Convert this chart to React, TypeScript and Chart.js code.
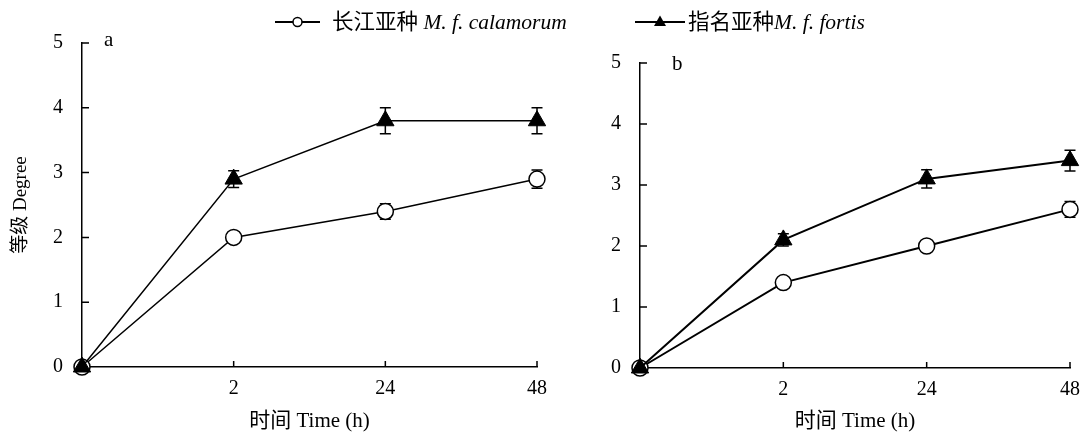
import React, { useEffect, useRef } from 'react';
import { Chart, registerables } from 'chart.js';

Chart.register(...registerables);

// ---------- data ----------
const timeLabels = ['0', '2', '24', '48'];

const aCalamorum = [0, 2.0, 2.4, 2.9];
const aCalamorumErr = [0, 0.05, 0.12, 0.14];
const aFortis = [0, 2.9, 3.8, 3.8];
const aFortisErr = [0, 0.13, 0.2, 0.2];

const bCalamorum = [0, 1.4, 2.0, 2.6];
const bCalamorumErr = [0, 0.05, 0.06, 0.13];
const bFortis = [0, 2.1, 3.1, 3.4];
const bFortisErr = [0, 0.1, 0.15, 0.17];

const seriesCn = ['长江亚种', '指名亚种'];
const seriesLatin = ['M. f. calamorum', 'M. f. fortis'];
const panelLetters = ['a', 'b'];
const xTitle = '时间 Time (h)';
const yTitle = '等级 Degree';

const FONT = '"Liberation Serif", "Times New Roman", "Noto Sans CJK SC", serif';

// ---------- plugins ----------
const errorBarPlugin = {
  id: 'errorBars',
  beforeDatasetsDraw(chart: any) {
    const ctx = chart.ctx;
    const yScale = chart.scales.y;
    chart.data.datasets.forEach((ds: any, di: number) => {
      const meta = chart.getDatasetMeta(di);
      if (!ds.errors) return;
      ctx.save();
      ctx.strokeStyle = '#000';
      ctx.lineWidth = 1.5;
      meta.data.forEach((pt: any, i: number) => {
        const v = ds.data[i];
        const e = ds.errors[i];
        if (!e) return;
        const x = pt.x;
        const yT = yScale.getPixelForValue(v + e);
        const yB = yScale.getPixelForValue(v - e);
        ctx.beginPath();
        ctx.moveTo(x, yT);
        ctx.lineTo(x, yB);
        ctx.moveTo(x - 5.5, yT);
        ctx.lineTo(x + 5.5, yT);
        ctx.moveTo(x - 5.5, yB);
        ctx.lineTo(x + 5.5, yB);
        ctx.stroke();
      });
      ctx.restore();
    });
  },
};

const inwardTicksPlugin = {
  id: 'inwardTicks',
  afterDraw(chart: any) {
    const ctx = chart.ctx;
    const { x, y } = chart.scales;
    const area = chart.chartArea;
    ctx.save();
    ctx.strokeStyle = '#000';
    ctx.lineWidth = 1.5;
    ctx.beginPath();
    x.ticks.forEach((_t: any, i: number) => {
      if (i === 0) return;
      const px = x.getPixelForTick(i);
      ctx.moveTo(px, area.bottom);
      ctx.lineTo(px, area.bottom - 6);
    });
    y.ticks.forEach((t: any) => {
      if (t.value === 0) return;
      const py = y.getPixelForValue(t.value);
      ctx.moveTo(area.left, py);
      ctx.lineTo(area.left + 7, py);
    });
    ctx.stroke();
    ctx.restore();
  },
};

const panelLabelPlugin = {
  id: 'panelLabel',
  afterDraw(chart: any, _args: any, opts: any) {
    if (!opts || !opts.text) return;
    const ctx = chart.ctx;
    const area = chart.chartArea;
    ctx.save();
    ctx.fillStyle = '#000';
    ctx.font = `21px ${FONT}`;
    ctx.textAlign = 'left';
    ctx.textBaseline = 'alphabetic';
    ctx.fillText(opts.text, area.left + opts.dx, area.top + opts.dy);
    ctx.restore();
  },
};

// ---------- panel ----------
type PanelProps = {
  cal: number[];
  calErr: number[];
  fort: number[];
  fortErr: number[];
  letter: string;
  width: number;
  padRight: number;
  padTop: number;
  yWidth: number;
  xHeight: number;
  showYTitle: boolean;
  lineWidth: number;
  labelDx: number;
  labelDy: number;
  left: number;
};

function Panel(p: PanelProps) {
  const ref = useRef<HTMLCanvasElement | null>(null);
  useEffect(() => {
    if (!ref.current) return;
    const chart = new Chart(ref.current, {
      type: 'line',
      data: {
        labels: timeLabels,
        datasets: [
          {
            label: seriesCn[1] + seriesLatin[1],
            data: p.fort,
            errors: p.fortErr,
            borderColor: '#000',
            borderWidth: p.lineWidth,
            pointStyle: 'triangle',
            pointRadius: 10,
            pointBackgroundColor: '#000',
            pointBorderColor: '#000',
            pointBorderWidth: 1,
            tension: 0,
            clip: false,
          } as any,
          {
            label: seriesCn[0] + ' ' + seriesLatin[0],
            data: p.cal,
            errors: p.calErr,
            borderColor: '#000',
            borderWidth: p.lineWidth,
            pointStyle: 'circle',
            pointRadius: 8,
            pointBackgroundColor: '#fff',
            pointBorderColor: '#000',
            pointBorderWidth: 1.5,
            tension: 0,
            clip: false,
          } as any,
        ],
      },
      options: {
        responsive: false,
        animation: false,
        devicePixelRatio: 1,
        layout: { padding: { left: 0, right: p.padRight, top: p.padTop, bottom: 0 } },
        plugins: {
          legend: { display: false },
          tooltip: { enabled: false },
          panelLabel: { text: p.letter, dx: p.labelDx, dy: p.labelDy },
        } as any,
        scales: {
          x: {
            type: 'category',
            offset: false,
            grid: { display: true, drawOnChartArea: false, drawTicks: false, color: 'rgba(0,0,0,0)' },
            border: { display: true, color: '#000', width: 1.5 },
            ticks: {
              color: '#000',
              font: { family: FONT, size: 20 },
              padding: 10,
              autoSkip: false,
              maxRotation: 0,
              callback: (_v: any, i: number) => (i === 0 ? '' : timeLabels[i]),
            },
            title: {
              display: true,
              text: xTitle,
              color: '#000',
              font: { family: FONT, size: 21 },
              padding: { top: 0, bottom: 4 },
            },
            afterFit: (s: any) => {
              s.height = p.xHeight;
            },
          },
          y: {
            min: 0,
            max: 5,
            grid: { display: true, drawOnChartArea: false, drawTicks: false, color: 'rgba(0,0,0,0)' },
            border: { display: true, color: '#000', width: 1.5 },
            ticks: {
              stepSize: 1,
              color: '#000',
              font: { family: FONT, size: 20 },
              padding: 19,
            },
            title: {
              display: p.showYTitle,
              text: yTitle,
              color: '#000',
              font: { family: FONT, size: 19 },
              padding: { top: 10, bottom: 0 },
            },
            afterFit: (s: any) => {
              s.width = p.yWidth;
            },
          },
        },
      } as any,
      plugins: [errorBarPlugin, inwardTicksPlugin, panelLabelPlugin],
    });
    return () => chart.destroy();
  }, []);
  return (
    <canvas
      ref={ref}
      width={p.width}
      height={438}
      style={{ position: 'absolute', left: p.left, top: 0, width: p.width, height: 438 }}
    />
  );
}

function LegendItem({ left, textLeft, symbolWidth, marker, cn, latin, gap }: any) {
  const mid = symbolWidth / 2;
  return (
    <>
      <svg
        width={symbolWidth}
        height={24}
        style={{ position: 'absolute', left, top: 10 }}
      >
        <line x1={0} y1={12} x2={symbolWidth} y2={12} stroke="#000" strokeWidth={2} />
        {marker === 'circle' ? (
          <circle cx={mid} cy={12} r={4.5} fill="#fff" stroke="#000" strokeWidth={1.5} />
        ) : (
          <polygon points={`${mid},5.5 ${mid + 6},16 ${mid - 6},16`} fill="#000" />
        )}
      </svg>
      <div
        style={{
          position: 'absolute',
          left: textLeft,
          top: 10,
          height: 24,
          lineHeight: '24px',
          fontSize: 21.5,
          fontFamily: FONT,
          color: '#000',
          whiteSpace: 'nowrap',
        }}
      >
        {cn}
        {gap ? ' ' : ''}
        <i>{latin}</i>
      </div>
    </>
  );
}

export default function App() {
  return (
    <div
      style={{
        position: 'absolute',
        left: 0,
        top: 0,
        width: 1090,
        height: 438,
        background: '#fff',
        overflow: 'hidden',
      }}
    >
      <Panel
        cal={aCalamorum}
        calErr={aCalamorumErr}
        fort={aFortis}
        fortErr={aFortisErr}
        letter={panelLetters[0]}
        left={0}
        width={560}
        padRight={23}
        padTop={43}
        yWidth={82}
        xHeight={71}
        showYTitle={true}
        lineWidth={1.5}
        labelDx={22}
        labelDy={3}
      />
      <Panel
        cal={bCalamorum}
        calErr={bCalamorumErr}
        fort={bFortis}
        fortErr={bFortisErr}
        letter={panelLetters[1]}
        left={560}
        width={530}
        padRight={13}
        padTop={63}
        yWidth={80}
        xHeight={70}
        showYTitle={false}
        lineWidth={2}
        labelDx={32}
        labelDy={7}
      />
      <LegendItem left={275} textLeft={332} symbolWidth={45} marker="circle" cn={seriesCn[0]} latin={seriesLatin[0]} gap={true} />
      <LegendItem left={635} textLeft={688} symbolWidth={50} marker="triangle" cn={seriesCn[1]} latin={seriesLatin[1]} gap={false} />
    </div>
  );
}
